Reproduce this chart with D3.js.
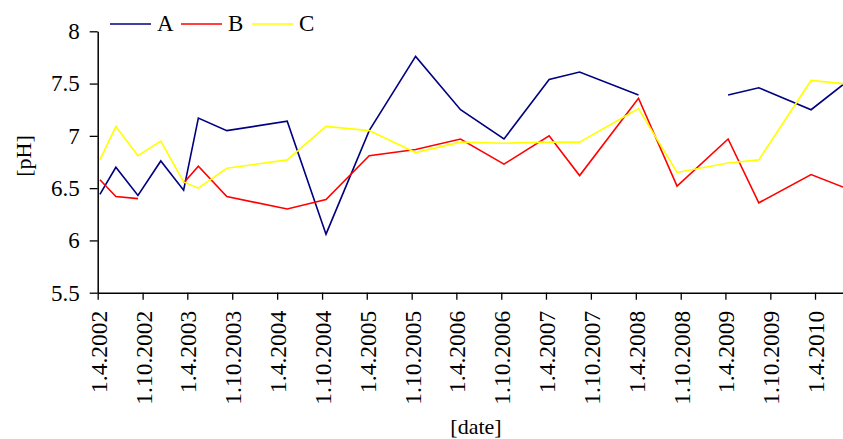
<!DOCTYPE html>
<html>
<head>
<meta charset="utf-8">
<script src="https://cdn.jsdelivr.net/npm/d3@7"></script>
<style>
  html, body { margin: 0; padding: 0; background: #fff; }
  svg { display: block; }
  text { font-family: "Liberation Serif", "Times New Roman", serif; fill: #000; }
</style>
</head>
<body>
<svg id="chart" width="843" height="439"></svg>
<script>
// Sampling dates (d.m.yyyy)
const sampleDates = [
  "10.4.2002", "14.6.2002", "12.9.2002", "14.12.2002", "17.3.2003", "16.5.2003",
  "9.9.2003", "12.5.2004", "17.10.2004", "11.4.2005", "17.10.2005", "18.4.2006",
  "12.10.2006", "14.4.2007", "16.8.2007", "12.4.2008", "16.9.2008", "12.4.2009",
  "15.8.2009", "16.3.2010", "24.7.2010"
];

// pH values per site (null = no measurement)
const seriesA = [6.44, 6.70, 6.43, 6.76, 6.48, 7.17, 7.05, 7.14, 6.06, 7.05, 7.76,
                 7.25, 6.97, 7.54, 7.61, 7.39, null, 7.39, 7.46, 7.25, 7.49];
const seriesB = [6.58, 6.42, 6.40, null, 6.55, 6.71, 6.42, 6.30, 6.39, 6.81, 6.87,
                 6.97, 6.73, 7.00, 6.62, 7.36, 6.52, 6.97, 6.36, 6.63, 6.51];
const seriesC = [6.77, 7.09, 6.81, 6.95, 6.56, 6.50, 6.69, 6.77, 7.09, 7.05, 6.84,
                 6.94, 6.93, 6.94, 6.94, 7.26, 6.65, 6.74, 6.77, 7.53, 7.50];

const seriesNames = ["A", "B", "C"];
const seriesColors = ["#000080", "#ff0000", "#ffff00"];

// Axis tick labels
const xTickLabels = [
  "1.4.2002", "1.10.2002", "1.4.2003", "1.10.2003", "1.4.2004", "1.10.2004",
  "1.4.2005", "1.10.2005", "1.4.2006", "1.10.2006", "1.4.2007", "1.10.2007",
  "1.4.2008", "1.10.2008", "1.4.2009", "1.10.2009", "1.4.2010"
];
const yTicks = [5.5, 6, 6.5, 7, 7.5, 8];

const parseDate = d3.timeParse("%d.%m.%Y");
const fmtDate = d3.timeFormat("%-d.%-m.%Y");

const svg = d3.select("#chart");
const margin = { left: 97.7, right: 0, top: 31.3, bottom: 146.3 };
const W = 843, H = 439;

const x = d3.scaleTime()
  .domain([parseDate("1.4.2002"), parseDate("24.7.2010")])
  .range([margin.left, W - margin.right]);

const y = d3.scaleLinear()
  .domain([5.5, 8])
  .range([H - margin.bottom, margin.top]);

const dates = sampleDates.map(parseDate);
const allSeries = [seriesA, seriesB, seriesC].map((vals, i) => ({
  name: seriesNames[i],
  color: seriesColors[i],
  points: vals.map((v, j) => ({ date: dates[j], value: v }))
}));

// Data lines (drawn under the axes)
const line = d3.line()
  .defined(d => d.value !== null)
  .x(d => x(d.date))
  .y(d => y(d.value));

svg.append("g")
  .selectAll("path")
  .data(allSeries)
  .join("path")
  .attr("fill", "none")
  .attr("stroke", d => d.color)
  .attr("stroke-width", 1.6)
  .attr("stroke-linejoin", "miter")
  .attr("d", d => line(d.points));

// X axis
const xAxis = d3.axisBottom(x)
  .tickValues(xTickLabels.map(parseDate))
  .tickFormat(fmtDate)
  .tickSize(7)
  .tickSizeOuter(0);

const gx = svg.append("g")
  .attr("transform", `translate(0,${y(5.5)})`)
  .call(xAxis);
gx.select(".domain").attr("stroke", "#000").attr("stroke-width", 1.5);
gx.selectAll(".tick line").attr("stroke", "#000").attr("stroke-width", 1.3);
gx.selectAll(".tick text")
  .style("font-size", "23.5px")
  .attr("text-anchor", "end")
  .attr("transform", "rotate(-90)")
  .attr("x", -18)
  .attr("y", 0)
  .attr("dy", "0.36em");

// Y axis
const yAxis = d3.axisLeft(y)
  .tickValues(yTicks)
  .tickFormat(d3.format("~g"))
  .tickSize(8)
  .tickSizeOuter(0);

const gy = svg.append("g")
  .attr("transform", `translate(${x.range()[0]},0)`)
  .call(yAxis);
gy.select(".domain").attr("stroke", "#000").attr("stroke-width", 1.5);
gy.selectAll(".tick line").attr("stroke", "#000").attr("stroke-width", 1.3);
gy.selectAll(".tick text")
  .style("font-size", "23px")
  .attr("x", -18);

// Axis titles
svg.append("text")
  .attr("x", 476)
  .attr("y", 434)
  .attr("text-anchor", "middle")
  .style("font-size", "22px")
  .text("[date]");

svg.append("text")
  .attr("transform", "translate(31,156) rotate(-90)")
  .attr("text-anchor", "middle")
  .style("font-size", "22px")
  .text("[pH]");

// Legend
const legend = svg.append("g")
  .selectAll("g")
  .data(allSeries)
  .join("g")
  .attr("transform", (d, i) => `translate(${110 + i * 71},24)`);

legend.append("line")
  .attr("x1", 0).attr("x2", 41)
  .attr("stroke", d => d.color)
  .attr("stroke-width", 1.6);

legend.append("text")
  .attr("x", 47)
  .attr("y", 7)
  .style("font-size", "23px")
  .text(d => d.name);
</script>
</body>
</html>
